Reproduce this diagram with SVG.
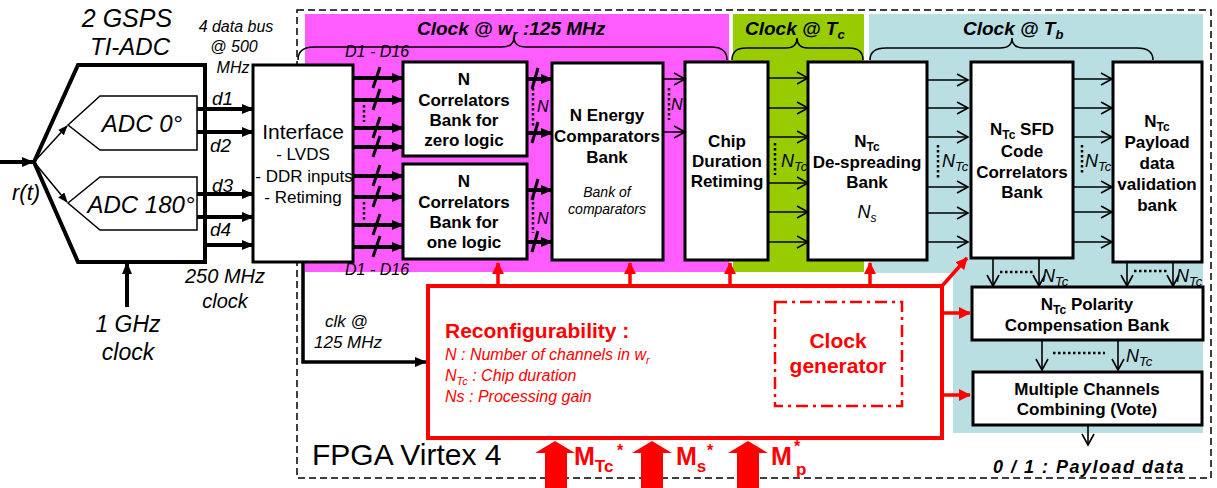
<svg xmlns="http://www.w3.org/2000/svg" width="1217" height="488" viewBox="0 0 1217 488">
<defs>
<marker id="ak" markerUnits="userSpaceOnUse" markerWidth="12" markerHeight="10" refX="11" refY="5" orient="auto"><path d="M0,0 L12,5 L0,10 z" fill="#000"/></marker>
<marker id="as" markerUnits="userSpaceOnUse" markerWidth="10" markerHeight="8" refX="9" refY="4" orient="auto"><path d="M0,0 L10,4 L0,8 z" fill="#000"/></marker>
<marker id="ch" markerUnits="userSpaceOnUse" markerWidth="14" markerHeight="14" refX="12" refY="7" orient="auto"><path d="M1,1 L12,7 L1,13" fill="none" stroke="#000" stroke-width="1.6"/></marker>
<marker id="ar" markerUnits="userSpaceOnUse" markerWidth="12" markerHeight="12" refX="11" refY="6" orient="auto"><path d="M0,0 L12,6 L0,12 z" fill="#f00"/></marker>
</defs>
<style>
text{font-family:"Liberation Sans",Arial,sans-serif;fill:#000}
.b{font-weight:bold}
.i{font-style:italic}
.m{text-anchor:middle}
.box{fill:#fff;stroke:#000;stroke-width:3}
.thick{stroke:#000;stroke-width:4;fill:none}
.thin{stroke:#000;stroke-width:1.6;fill:none}
.dot{stroke:#000;stroke-width:2.5;stroke-dasharray:2.5,2.5;fill:none}
.sl{stroke:#000;stroke-width:3}
.red{stroke:#f00;stroke-width:3.5;fill:none}
.rt{fill:#f00}
.brace{fill:none;stroke:#000;stroke-width:1.5}
</style>
<rect width="1217" height="488" fill="#fff"/>

<g id="regions">
<rect x="305" y="14" width="424" height="258" fill="#ff5cff"/>
<rect x="733" y="14" width="131" height="258" fill="#99cc00"/>
<path d="M869,14 H1203 V433 H953 V273 H869 Z" fill="#b9dfe3"/>
</g>

<g id="fpga">
<rect x="297" y="10" width="914" height="468" fill="none" stroke="#000" stroke-width="1.5" stroke-dasharray="7,4"/>
<text x="312" y="465" font-size="30">FPGA Virtex 4</text>
</g>

<g id="clock-domains">
<path class="brace" d="M298,60 Q298,47 314,47 L502,47 Q514,47 514,37 Q514,47 526,47 L711,47 Q727,47 727,60"/>
<path class="brace" d="M732,60 Q732,48 746,48 L786,48 Q797,48 797,38 Q797,48 808,48 L849,48 Q863,48 863,60"/>
<path class="brace" d="M870,60 Q870,48 886,48 L1000,48 Q1012,48 1012,38 Q1012,48 1024,48 L1137,48 Q1153,48 1153,60"/>
<text x="417" y="35" font-size="19" class="b i">Clock @ w<tspan dy="4" font-size="13">r</tspan><tspan dy="-4"> :125 MHz</tspan></text>
<text x="745" y="35" font-size="19" class="b i">Clock @ T<tspan dy="4" font-size="13">c</tspan></text>
<text x="963" y="35" font-size="19" class="b i">Clock @ T<tspan dy="4" font-size="13">b</tspan></text>
</g>

<g id="ti-adc">
<polygon points="78,65 205,65 205,262 78,262 34,162" fill="none" stroke="#000" stroke-width="4"/>
<text x="127" y="27" font-size="25" class="i m">2 GSPS</text>
<text x="130" y="55" font-size="24" class="i m">TI-ADC</text>
</g>
<g id="adc0">
<polygon points="68,125 100,96 197,96 197,150 100,150" fill="#fff" stroke="#000" stroke-width="1.5"/>
<text x="142" y="132" font-size="24" class="i m">ADC 0°</text>
</g>
<g id="adc180">
<polygon points="68,203 100,177 197,177 197,230 100,230" fill="#fff" stroke="#000" stroke-width="1.5"/>
<text x="141" y="213" font-size="24" class="i m">ADC 180°</text>
</g>
<text x="12" y="200" font-size="22" class="i">r(t)</text>
<text x="236" y="32" font-size="16" class="i m">4 data bus</text>
<text x="234" y="52" font-size="16" class="i m">@ 500</text>
<text x="233" y="73" font-size="16" class="i m">MHz</text>
<text x="212" y="105" font-size="19" class="i">d1</text>
<text x="210" y="152" font-size="19" class="i">d2</text>
<text x="212" y="192" font-size="19" class="i">d3</text>
<text x="210" y="236" font-size="19" class="i">d4</text>
<text x="225" y="283" font-size="20" class="i m">250 MHz</text>
<text x="225" y="308" font-size="20" class="i m">clock</text>
<text x="128" y="332" font-size="23" class="i m">1 GHz</text>
<text x="128" y="360" font-size="23" class="i m">clock</text>

<g id="interface">
<rect class="box" x="253" y="65" width="100" height="197"/>
<text x="303" y="139" font-size="21" class="m">Interface</text>
<text x="303" y="160" font-size="17" class="m">- LVDS</text>
<text x="304" y="182" font-size="17" class="m">- DDR inputs</text>
<text x="303" y="203" font-size="17" class="m">- Retiming</text>
</g>

<text x="345" y="57" font-size="16" class="i">D1 - D16</text>
<text x="345" y="275" font-size="16" class="i">D1 - D16</text>

<g id="corr-zero">
<rect class="box" x="403" y="62" width="124" height="94"/>
<text x="464" y="85" font-size="17" class="b m">N</text>
<text x="464" y="106" font-size="17" class="b m">Correlators</text>
<text x="464" y="126" font-size="17" class="b m">Bank for</text>
<text x="464" y="146" font-size="17" class="b m">zero logic</text>
</g>
<g id="corr-one">
<rect class="box" x="403" y="164" width="124" height="95"/>
<text x="464" y="187" font-size="17" class="b m">N</text>
<text x="464" y="208" font-size="17" class="b m">Correlators</text>
<text x="464" y="228" font-size="17" class="b m">Bank for</text>
<text x="464" y="248" font-size="17" class="b m">one logic</text>
</g>
<g id="energy">
<rect class="box" x="552" y="63" width="111" height="197"/>
<text x="607" y="121" font-size="17" class="b m">N Energy</text>
<text x="607" y="142" font-size="17" class="b m">Comparators</text>
<text x="607" y="163" font-size="17" class="b m">Bank</text>
<text x="607" y="197" font-size="14" class="i m">Bank of</text>
<text x="607" y="214" font-size="14" class="i m">comparators</text>
</g>
<g id="chip">
<rect class="box" x="685" y="62" width="83" height="198"/>
<text x="727" y="147" font-size="17" class="b m">Chip</text>
<text x="727" y="167" font-size="17" class="b m">Duration</text>
<text x="727" y="187" font-size="17" class="b m">Retiming</text>
</g>
<g id="despreading">
<rect class="box" x="808" y="62" width="119" height="198"/>
<text x="867" y="147" font-size="17" class="b m">N<tspan dy="4" font-size="12">Tc</tspan></text>
<text x="867" y="168" font-size="17" class="b m">De-spreading</text>
<text x="867" y="188" font-size="17" class="b m">Bank</text>
<text x="867" y="218" font-size="18" class="i m">N<tspan dy="4" font-size="12">s</tspan></text>
</g>
<g id="sfd">
<rect class="box" x="971" y="62" width="102" height="196"/>
<text x="1022" y="135" font-size="17" class="b m">N<tspan dy="4" font-size="12">Tc</tspan><tspan dy="-4"> SFD</tspan></text>
<text x="1022" y="157" font-size="17" class="b m">Code</text>
<text x="1022" y="178" font-size="17" class="b m">Correlators</text>
<text x="1022" y="198" font-size="17" class="b m">Bank</text>
</g>
<g id="payload">
<rect class="box" x="1113" y="62" width="89" height="200"/>
<text x="1157" y="127" font-size="17" class="b m">N<tspan dy="4" font-size="12">Tc</tspan></text>
<text x="1157" y="148" font-size="17" class="b m">Payload</text>
<text x="1157" y="169" font-size="17" class="b m">data</text>
<text x="1157" y="190" font-size="17" class="b m">validation</text>
<text x="1157" y="211" font-size="17" class="b m">bank</text>
</g>
<g id="polarity">
<rect class="box" x="972" y="287" width="231" height="53"/>
<text x="1087" y="310" font-size="17" class="b m">N<tspan dy="4" font-size="12">Tc</tspan><tspan dy="-4"> Polarity</tspan></text>
<text x="1087" y="331" font-size="17" class="b m">Compensation Bank</text>
</g>
<g id="vote">
<rect class="box" x="973" y="372" width="229" height="53"/>
<text x="1087" y="395" font-size="17" class="b m">Multiple Channels</text>
<text x="1087" y="415" font-size="17" class="b m">Combining (Vote)</text>
</g>
<text x="993" y="473" font-size="18" letter-spacing="1.5" class="b i">0 / 1 : Payload data</text>

<g id="reconfig">
<rect x="428" y="286" width="514" height="152" fill="#fff" stroke="#f00" stroke-width="4"/>
<text x="445" y="338" font-size="21" class="b rt">Reconfigurability :</text>
<text x="445" y="360" font-size="16" class="i rt">N : Number of channels in w<tspan dy="4" font-size="11">r</tspan></text>
<text x="445" y="381" font-size="16" class="i rt">N<tspan dy="4" font-size="11">Tc</tspan><tspan dy="-4"> : Chip duration</tspan></text>
<text x="445" y="402" font-size="16" class="i rt">Ns : Processing gain</text>
</g>
<g id="clockgen">
<rect x="775" y="302" width="127" height="104" fill="none" stroke="#f00" stroke-width="2.5" stroke-dasharray="12,5,3,5"/>
<text x="838" y="348" font-size="21" class="b m rt">Clock</text>
<text x="838" y="373" font-size="21" class="b m rt">generator</text>
</g>

<g id="connectors">
<line class="thick" x1="0" y1="162" x2="33" y2="162" marker-end="url(#ak)"/>
<line stroke="#000" stroke-width="1.5" x1="34" y1="162" x2="67" y2="126" marker-end="url(#as)"/>
<line stroke="#000" stroke-width="1.5" x1="34" y1="162" x2="67" y2="202" marker-end="url(#as)"/>
<line class="thick" x1="197" y1="109" x2="253" y2="109" marker-end="url(#ak)"/>
<line class="thick" x1="197" y1="132" x2="253" y2="132" marker-end="url(#ak)"/>
<line class="thick" x1="197" y1="194" x2="253" y2="194" marker-end="url(#ak)"/>
<line class="thick" x1="197" y1="217" x2="253" y2="217" marker-end="url(#ak)"/>
<line class="thick" x1="205" y1="245" x2="253" y2="245" marker-end="url(#ak)"/>
<line class="thick" x1="127" y1="307" x2="127" y2="263" marker-end="url(#ak)"/>

<line class="thick" x1="353" y1="78" x2="403" y2="78" marker-end="url(#ak)"/>
<line class="thick" x1="353" y1="100" x2="403" y2="100" marker-end="url(#ak)"/>
<line class="thick" x1="353" y1="128" x2="403" y2="128" marker-end="url(#ak)"/>
<line class="thick" x1="353" y1="147" x2="403" y2="147" marker-end="url(#ak)"/>
<line class="thick" x1="353" y1="176" x2="403" y2="176" marker-end="url(#ak)"/>
<line class="thick" x1="353" y1="197" x2="403" y2="197" marker-end="url(#ak)"/>
<line class="thick" x1="353" y1="225" x2="403" y2="225" marker-end="url(#ak)"/>
<line class="thick" x1="353" y1="247" x2="403" y2="247" marker-end="url(#ak)"/>
<line class="sl" x1="380" y1="67" x2="373" y2="88"/>
<line class="sl" x1="380" y1="89" x2="373" y2="110"/>
<line class="sl" x1="380" y1="117" x2="373" y2="138"/>
<line class="sl" x1="380" y1="136" x2="373" y2="157"/>
<line class="sl" x1="380" y1="165" x2="373" y2="186"/>
<line class="sl" x1="380" y1="186" x2="373" y2="207"/>
<line class="sl" x1="380" y1="214" x2="373" y2="235"/>
<line class="sl" x1="380" y1="236" x2="373" y2="257"/>
<line class="dot" x1="364" y1="105" x2="364" y2="122"/>
<line class="dot" x1="364" y1="202" x2="364" y2="220"/>

<line class="thick" x1="527" y1="79" x2="552" y2="79" marker-end="url(#ak)"/>
<line class="thick" x1="527" y1="133" x2="552" y2="133" marker-end="url(#ak)"/>
<line class="thick" x1="527" y1="190" x2="552" y2="190" marker-end="url(#ak)"/>
<line class="thick" x1="527" y1="242" x2="552" y2="242" marker-end="url(#ak)"/>
<line class="sl" x1="538" y1="68" x2="532" y2="89"/>
<line class="sl" x1="538" y1="122" x2="532" y2="143"/>
<line class="sl" x1="538" y1="179" x2="532" y2="200"/>
<line class="sl" x1="538" y1="231" x2="532" y2="252"/>
<line class="dot" x1="533" y1="88" x2="533" y2="126"/>
<line class="dot" x1="533" y1="197" x2="533" y2="233"/>
<text x="537" y="112" font-size="16" class="i">N</text>
<text x="537" y="224" font-size="16" class="i">N</text>

<line class="thin" x1="663" y1="79" x2="685" y2="79" marker-end="url(#ch)"/>
<line class="thin" x1="663" y1="132" x2="685" y2="132" marker-end="url(#ch)"/>
<line class="dot" x1="669" y1="88" x2="669" y2="120"/>
<text x="671" y="110" font-size="16" class="i">N</text>

<line class="thin" x1="768" y1="78" x2="808" y2="78" marker-end="url(#ch)"/>
<line class="thin" x1="768" y1="108" x2="808" y2="108" marker-end="url(#ch)"/>
<line class="thin" x1="768" y1="137" x2="808" y2="137" marker-end="url(#ch)"/>
<line class="thin" x1="768" y1="183" x2="808" y2="183" marker-end="url(#ch)"/>
<line class="thin" x1="768" y1="212" x2="808" y2="212" marker-end="url(#ch)"/>
<line class="thin" x1="768" y1="242" x2="808" y2="242" marker-end="url(#ch)"/>
<line class="dot" x1="775" y1="143" x2="775" y2="175"/>
<text x="781" y="167" font-size="18" class="i">N<tspan dy="4" font-size="13">Tc</tspan></text>

<line class="thin" x1="927" y1="80" x2="968" y2="80" marker-end="url(#ch)"/>
<line class="thin" x1="927" y1="108" x2="968" y2="108" marker-end="url(#ch)"/>
<line class="thin" x1="927" y1="137" x2="968" y2="137" marker-end="url(#ch)"/>
<line class="thin" x1="927" y1="187" x2="968" y2="187" marker-end="url(#ch)"/>
<line class="thin" x1="927" y1="213" x2="968" y2="213" marker-end="url(#ch)"/>
<line class="thin" x1="927" y1="242" x2="968" y2="242" marker-end="url(#ch)"/>
<line class="dot" x1="938" y1="145" x2="938" y2="178"/>
<text x="942" y="167" font-size="18" class="i">N<tspan dy="4" font-size="13">Tc</tspan></text>

<line class="thin" x1="1073" y1="79" x2="1112" y2="79" marker-end="url(#ch)"/>
<line class="thin" x1="1073" y1="108" x2="1112" y2="108" marker-end="url(#ch)"/>
<line class="thin" x1="1073" y1="137" x2="1112" y2="137" marker-end="url(#ch)"/>
<line class="thin" x1="1073" y1="187" x2="1112" y2="187" marker-end="url(#ch)"/>
<line class="thin" x1="1073" y1="212" x2="1112" y2="212" marker-end="url(#ch)"/>
<line class="thin" x1="1073" y1="242" x2="1112" y2="242" marker-end="url(#ch)"/>
<line class="dot" x1="1082" y1="145" x2="1082" y2="175"/>
<text x="1085" y="167" font-size="18" class="i">N<tspan dy="4" font-size="13">Tc</tspan></text>

<line class="thin" x1="993" y1="259" x2="993" y2="286" marker-end="url(#ch)"/>
<line class="thin" x1="1039" y1="259" x2="1039" y2="286" marker-end="url(#ch)"/>
<line class="dot" x1="1000" y1="272" x2="1033" y2="272"/>
<text x="1042" y="282" font-size="18" class="i">N<tspan dy="4" font-size="13">Tc</tspan></text>
<line class="thin" x1="1127" y1="263" x2="1127" y2="286" marker-end="url(#ch)"/>
<line class="thin" x1="1173" y1="263" x2="1173" y2="286" marker-end="url(#ch)"/>
<line class="dot" x1="1134" y1="271" x2="1167" y2="271"/>
<text x="1176" y="282" font-size="18" class="i">N<tspan dy="4" font-size="13">Tc</tspan></text>

<line class="thin" x1="1042" y1="341" x2="1042" y2="370" marker-end="url(#ch)"/>
<line class="thin" x1="1118" y1="341" x2="1118" y2="370" marker-end="url(#ch)"/>
<line class="dot" x1="1053" y1="353" x2="1105" y2="353"/>
<text x="1126" y="362" font-size="18" class="i">N<tspan dy="4" font-size="13">Tc</tspan></text>
<line class="thin" x1="1088" y1="426" x2="1088" y2="445" marker-end="url(#ch)"/>

<polyline fill="none" stroke="#000" stroke-width="3.5" points="303,262 303,362 426,362" marker-end="url(#ak)"/>
<text x="325" y="327" font-size="17" class="i">clk @</text>
<text x="314" y="348" font-size="17" class="i">125 MHz</text>

<line class="red" x1="498" y1="286" x2="498" y2="263" marker-end="url(#ar)"/>
<line class="red" x1="630" y1="286" x2="630" y2="263" marker-end="url(#ar)"/>
<line class="red" x1="730" y1="286" x2="730" y2="263" marker-end="url(#ar)"/>
<line class="red" x1="870" y1="286" x2="870" y2="263" marker-end="url(#ar)"/>
<line class="red" x1="942" y1="286" x2="967" y2="258" marker-end="url(#ar)"/>
<line class="red" x1="942" y1="313" x2="970" y2="313" marker-end="url(#ar)"/>
<line class="red" x1="942" y1="395" x2="970" y2="395" marker-end="url(#ar)"/>

<polygon points="555,441 575,453 567,453 567,488 545,488 545,453 535,453" fill="#f00"/>
<polygon points="652,441 672,453 663,453 663,488 641,488 641,453 632,453" fill="#f00"/>
<polygon points="748,441 768,453 759,453 759,488 737,488 737,453 728,453" fill="#f00"/>
</g>
<text x="574" y="465" font-size="25" class="b rt">M<tspan dy="7" font-size="17">Tc</tspan></text>
<text x="617" y="456" font-size="16" class="b rt">*</text>
<text x="676" y="465" font-size="25" class="b rt">M<tspan dy="7" font-size="17">s</tspan></text>
<text x="707" y="456" font-size="16" class="b rt">*</text>
<text x="771" y="465" font-size="25" class="b rt">M</text>
<text x="794" y="452" font-size="16" class="b rt">*</text>
<text x="796" y="475" font-size="17" class="b rt">p</text>
</svg>
